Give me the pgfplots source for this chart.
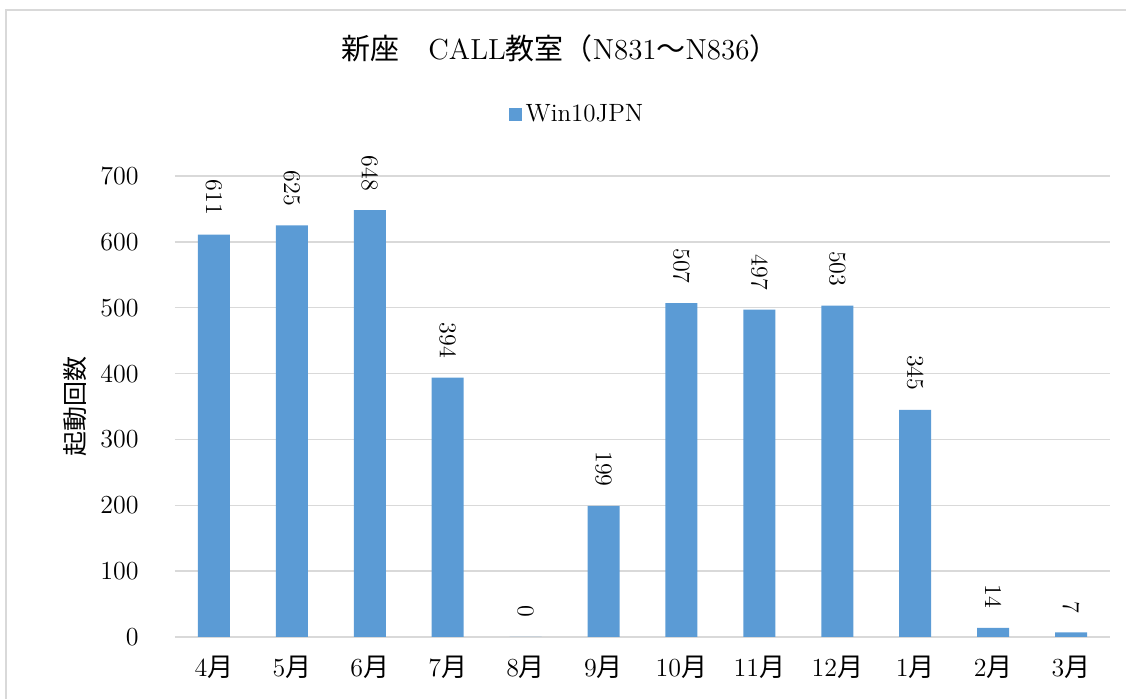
\documentclass[border=0pt]{standalone}
\usepackage{fontspec}
\usepackage{pgfplots}
\pgfplotsset{compat=1.18}
\newfontfamily\cjk{Noto Sans CJK JP}
\definecolor{barblue}{HTML}{5B9BD5}
\definecolor{gridgray}{HTML}{D9D9D9}
\newcommand{\tsuki}{{\cjk 月}}

\begin{document}
\begin{tikzpicture}
% page = 1126x699 px at 0.5pt per px, axis origin at px (175,637)
\useasboundingbox (-87.5pt,-31pt) rectangle (475.5pt,318.5pt);
\draw[gridgray, line width=1pt] (-84.5pt,-40pt) -- (-84.5pt,313.5pt) -- (490pt,313.5pt);
\begin{axis}[
    width=467.5pt, height=230.5pt, scale only axis,
    ybar, bar width=16pt,
    xmin=-0.5, xmax=11.5, ymin=0, ymax=700,
    ytick={0,100,...,700},
    yticklabel={\pgfmathprintnumber[assume math mode=true]{\tick}},
    xtick={0,...,11},
    xticklabels={4\tsuki,5\tsuki,6\tsuki,7\tsuki,8\tsuki,9\tsuki,10\tsuki,11\tsuki,12\tsuki,1\tsuki,2\tsuki,3\tsuki},
    ymajorgrids, grid style={gridgray, line width=0.75pt},
    axis line style={draw=none},
    major tick length=0pt,
    yticklabel style={font=\fontsize{13}{15}\selectfont, inner sep=0pt, xshift=-18pt},
    xticklabel style={font=\fontsize{13}{15}\selectfont, anchor=center, yshift=-15pt},
    ylabel={\cjk 起動回数},
    ylabel style={at={(axis description cs:-0.107,0.5)}, anchor=center, font=\fontsize{12.5}{14}\selectfont},
    title={{\cjk 新座　}CALL{\cjk 教室（}N831{\cjk ～}N836{\cjk ）}},
    title style={at={(axis description cs:0.4118,1.2516)}, anchor=center, font=\fontsize{14.5}{17}\selectfont},
    legend style={at={(axis description cs:0.431,1.134)}, anchor=center, draw=none, fill=none,
        font=\fontsize{12.5}{14}\selectfont, inner sep=0pt},
    legend image code/.code={\fill[barblue] (0pt,-3.25pt) rectangle (6.5pt,3.25pt);},
    nodes near coords={\pgfmathprintnumber[assume math mode=true]{\pgfplotspointmeta}},
    every node near coord/.append style={font=\fontsize{12}{14}\selectfont, rotate=-90, anchor=east,
        inner xsep=9.5pt, inner ysep=0pt},
]
\addplot[fill=barblue, draw=none] coordinates {
    (0,611) (1,625) (2,648) (3,394) (4,0) (5,199)
    (6,507) (7,497) (8,503) (9,345) (10,14) (11,7)
};
\legend{Win10JPN}
\end{axis}
\end{tikzpicture}
\end{document}
